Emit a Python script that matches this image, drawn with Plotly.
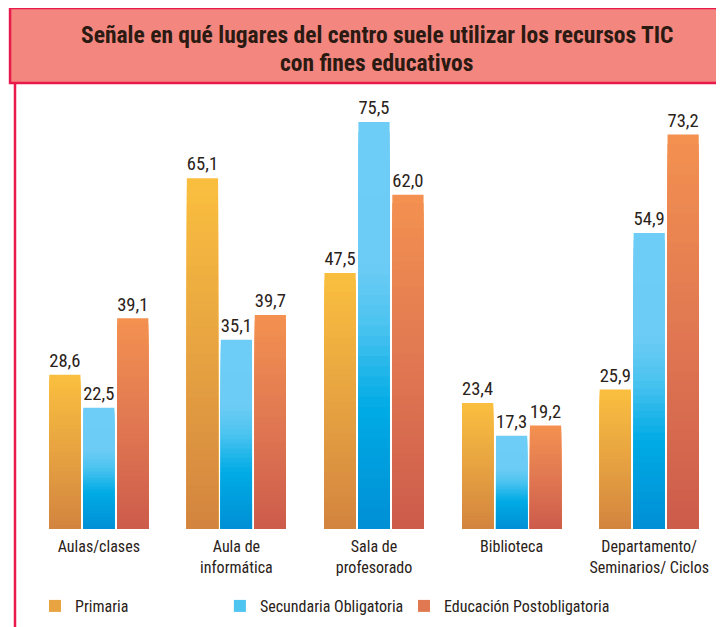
import plotly.graph_objects as go

categories = ["Aulas/clases", "Aula de<br>informática", "Sala de<br>profesorado",
              "Biblioteca", "Departamento/<br>Seminarios/ Ciclos"]
primaria = [28.6, 65.1, 47.5, 23.4, 25.9]
secundaria = [22.5, 35.1, 75.5, 17.3, 54.9]
postobligatoria = [39.1, 39.7, 62.0, 19.2, 73.2]
series_names = ["Primaria", "Secundaria Obligatoria", "Educación Postobligatoria"]
title_lines = ["Señale en qué lugares del centro suele utilizar los recursos TIC",
               "con fines educativos"]

# gradient stops (bottom -> top) for each series
scales = [
    [(0.0, (211, 132, 63)), (0.5, (230, 163, 65)), (1.0, (251, 191, 63))],
    [(0.0, (0, 143, 213)), (0.3, (0, 171, 229)), (0.5, (75, 195, 240)), (0.65, (109, 204, 245)), (1.0, (110, 205, 246))],
    [(0.0, (205, 91, 75)), (0.5, (224, 120, 82)), (1.0, (244, 145, 80))],
]
legend_ids = ["legend", "legend2", "legend3"]
legend_x = [0.0073, 0.276, 0.5436]

def interp(scale, t):
    for (a, ca), (b, cb) in zip(scale[:-1], scale[1:]):
        if a <= t <= b:
            f = (t - a) / (b - a) if b > a else 0
            c = [round(ca[i] + (cb[i] - ca[i]) * f) for i in range(3)]
            return "rgb(%d,%d,%d)" % tuple(c)
    return "rgb(%d,%d,%d)" % scale[-1][1]

N = 40
font_fam = "Roboto Condensed, Arial Narrow, Liberation Sans Narrow, Roboto, sans-serif"
fig = go.Figure()
for name, vals, sc, lg in zip(series_names, [primaria, secundaria, postobligatoria], scales, legend_ids):
    # overlapping segments from the base up, tallest drawn first -> seamless gradient
    for k in range(N - 1, -1, -1):
        seg = [v * (k + 1) / N for v in vals]
        top = k == N - 1
        fig.add_trace(go.Bar(
            x=categories, y=seg, name=name, offsetgroup=name,
            marker=dict(color=interp(sc, (k + 0.5) / N), line=dict(width=0)),
            showlegend=(k == N // 2), legendgroup=name, legend=lg,
            text=[f"{v:.1f}".replace(".", ",") for v in vals] if top else None,
            textposition="outside" if top else "none",
            textfont=dict(size=20, color="#2a2218", family=font_fam),
            cliponaxis=False, hoverinfo="skip",
        ))

legend_common = dict(orientation="h", y=-0.1795, xanchor="left", yanchor="middle",
                     font=dict(size=16), bgcolor="rgba(0,0,0,0)")
fig.update_layout(
    width=724, height=627,
    margin=dict(l=22, r=14, t=92, b=106),
    paper_bgcolor="white", plot_bgcolor="white",
    barmode="group", bargap=0.26, bargroupgap=0.08,
    font=dict(family=font_fam, color="#2a2218", size=16),
    xaxis=dict(showgrid=False, showline=False, ticks="", tickfont=dict(size=16),
               ticklabelstandoff=6, fixedrange=True),
    yaxis=dict(visible=False, range=[0, 79.6], fixedrange=True),
    legend=dict(x=legend_x[0], **legend_common),
    legend2=dict(x=legend_x[1], **legend_common),
    legend3=dict(x=legend_x[2], **legend_common),
    shapes=[
        dict(type="rect", xref="paper", yref="paper", x0=-0.029, x1=1.05, y0=1.0396, y1=1.2145,
             fillcolor="#f3877f", line=dict(color="#e8194b", width=2.5), layer="below"),
        dict(type="line", xref="paper", yref="paper", x0=-0.0218, x1=-0.0218, y0=1.0396, y1=-0.25,
             line=dict(color="#e8194b", width=2.5)),
    ],
    annotations=[
        dict(xref="paper", yref="paper", x=0.504, y=1.1515, xanchor="center", yanchor="middle",
             showarrow=False, text="<b>" + title_lines[0] + "</b>",
             font=dict(size=23.5, color="#2a1a12", family=font_fam)),
        dict(xref="paper", yref="paper", x=0.504, y=1.0862, xanchor="center", yanchor="middle",
             showarrow=False, text="<b>" + title_lines[1] + "</b>",
             font=dict(size=23.5, color="#2a1a12", family=font_fam)),
    ],
)
fig.write_html("out.html")
